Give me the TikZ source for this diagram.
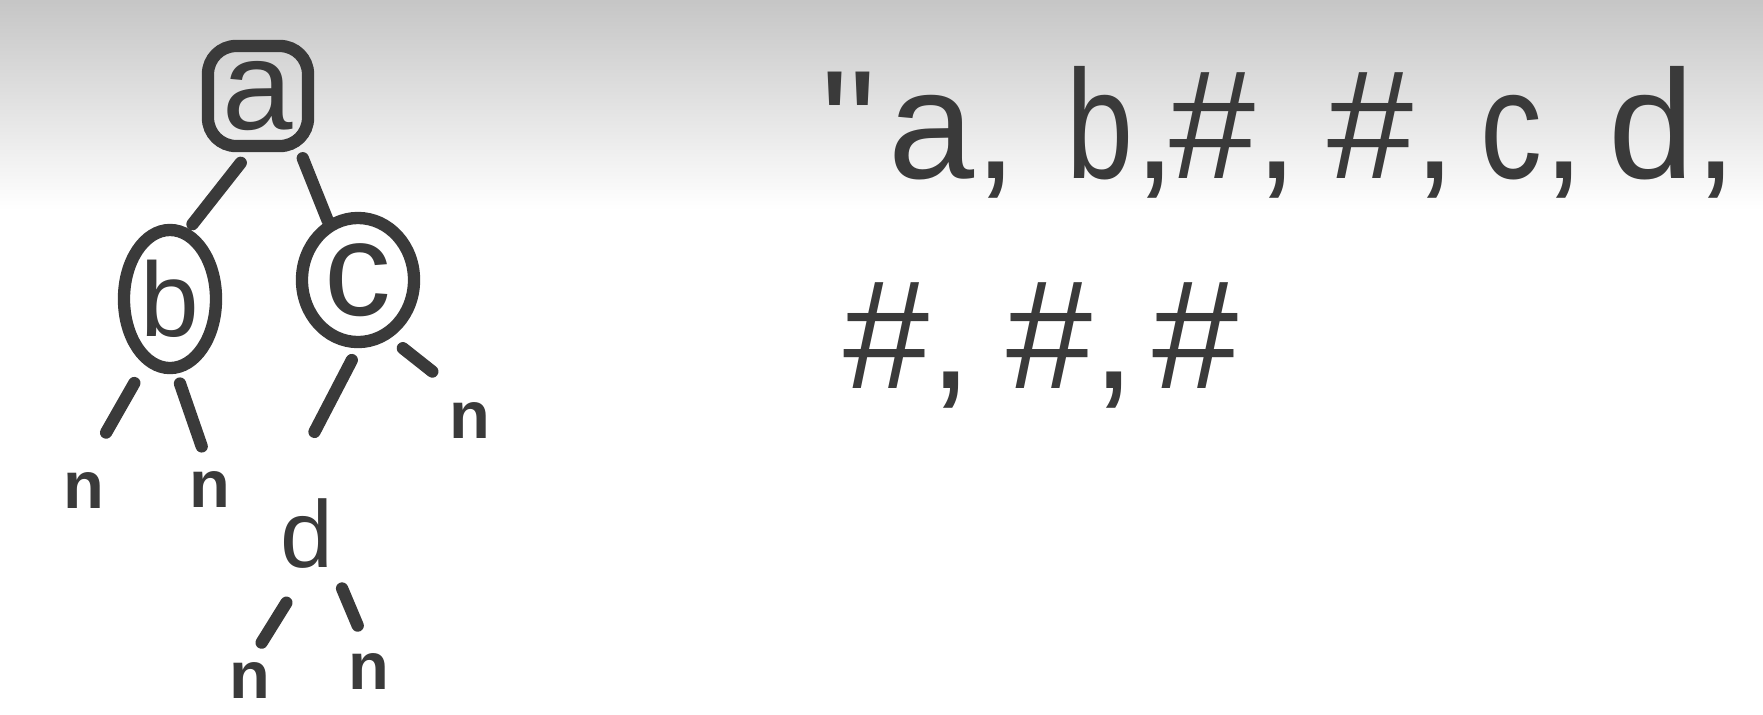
\documentclass[tikz,border=0pt]{standalone}
\usepackage{fontspec}
\setmainfont{Liberation Sans}
\usetikzlibrary{shapes.geometric}
\definecolor{ink}{HTML}{3A3A3A}
\begin{document}
\begin{tikzpicture}[x=0.01cm,y=-0.01cm,
  edge/.style={draw=ink, line width=3.5pt, line cap=round},
  ringnode/.style={draw=ink, line width=3.5pt, text=ink, inner sep=0pt},
  leaf/.style={text=ink, inner sep=0pt, font=\fontsize{19}{19}\selectfont\bfseries},
  hand/.style={text=ink, inner sep=0pt, anchor=base west, font=\fontsize{44}{44}\selectfont}]
\useasboundingbox (0,0) rectangle (1763,714);
\fill[white] (0,0) rectangle (1763,714);
\shade[top color=gray!45, bottom color=white] (0,0) rectangle (1763,210);
% tree nodes
\node[ringnode, rectangle, rounded corners=8pt, minimum size=1.0cm, font=\fontsize{36}{36}\selectfont] (a) at (258,96) {a};
\node[ringnode, ellipse, minimum width=0.92cm, minimum height=1.38cm, font=\fontsize{30}{30}\selectfont] (b) at (170,299) {b};
\node[ringnode, ellipse, minimum width=1.12cm, minimum height=1.24cm, font=\fontsize{38}{38}\selectfont] (c) at (358,280) {c};
\node[text=ink, inner sep=0pt, font=\fontsize{27}{27}\selectfont] (d) at (307,534) {d};
\node[leaf] (n1) at (84,490) {n};
\node[leaf] (n2) at (210,489) {n};
\node[leaf] (n3) at (470,420) {n};
\node[leaf] (n4) at (250,680) {n};
\node[leaf] (n5) at (369,671) {n};
% edges
\draw[edge, shorten <=0.135cm, shorten >=0.06cm] (a.-99) -- (b.75);
\draw[edge, shorten <=0.065cm] (a.-53.5) -- (c.117);
\draw[edge, shorten <=0.21cm, shorten >=0.446cm] (b.-111) -- (n1.north);
\draw[edge, shorten <=0.105cm, shorten >=0.253cm] (b.-85) -- (n2.north);
\draw[edge, shorten <=0.134cm, shorten >=0.75cm] (c.south) -- (d.north west);
\draw[edge, shorten <=0.16cm, shorten >=0.48cm] (c.-61) -- (n3.north);
\draw[edge, shorten <=0.39cm, shorten >=0.22cm] (d.south) -- (n4.north);
\draw[edge, shorten <=0.205cm, shorten >=0.29cm] (d.south east) -- (n5.north);
% sequence text
\node[hand] (q) at (821,178) {\textquotedbl};
\node[hand] (t1) at (888,178) {a,};
\node[hand] (t2) at (1066,178) {\scalebox{0.78}[1]{b},};
\node[hand] (t3) at (1169,178) {\#,};
\node[hand] (t4) at (1327,178) {\#,};
\node[hand] (t5) at (1480,178) {\scalebox{0.8}[1]{c},};
\node[hand] (t6) at (1608,178) {d,};
\node[hand] (u1) at (843,388) {\#,};
\node[hand] (u2) at (1006,388) {\#,};
\node[hand] (u3) at (1152,388) {\#};
\end{tikzpicture}
\end{document}
